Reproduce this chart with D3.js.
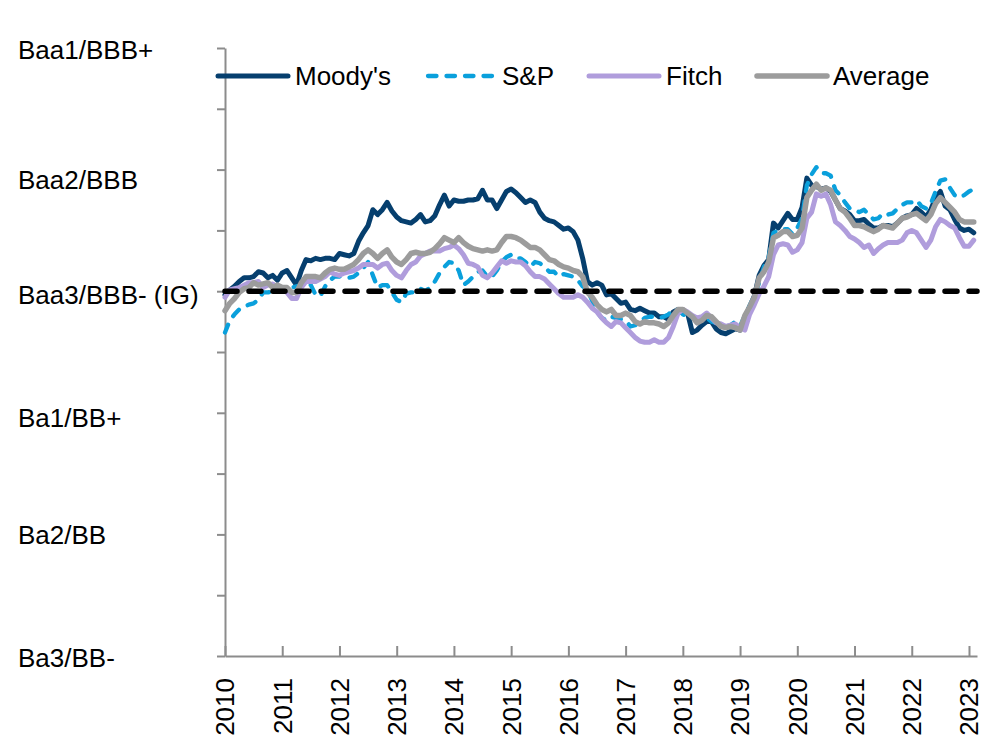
<!DOCTYPE html>
<html>
<head>
<meta charset="utf-8">
<script src="https://d3js.org/d3.v7.min.js"></script>
<style>
  body { margin: 0; background: #fff; }
  text { font-family: "Liberation Sans", Arial, sans-serif; fill: #000; }
</style>
</head>
<body>
<div id="chart"></div>
<script>
// notches relative to the IG threshold (Baa3/BBB- = 0), monthly from Jan 2010
var ratingValues = [-3, -2, -1, 0, 1, 2];
var ratingLabels = ["Ba3/BB-", "Ba2/BB", "Ba1/BB+", "Baa3/BBB- (IG)", "Baa2/BBB", "Baa1/BBB+"];
var years = [2010, 2011, 2012, 2013, 2014, 2015, 2016, 2017, 2018, 2019, 2020, 2021, 2022, 2023];
var igLevel = 0;

var moodys = [
  -0.03,0.01,0.04,0.08,0.11,0.11,0.12,0.16,0.15,0.11,0.13,0.09,
  0.15,0.17,0.11,0.05,0.17,0.26,0.25,0.27,0.26,0.27,0.27,0.26,
  0.31,0.30,0.29,0.31,0.41,0.48,0.54,0.67,0.63,0.67,0.73,0.66,
  0.61,0.58,0.57,0.56,0.59,0.63,0.57,0.58,0.62,0.71,0.79,0.70,
  0.75,0.74,0.74,0.75,0.75,0.76,0.83,0.75,0.75,0.68,0.75,0.82,
  0.84,0.81,0.77,0.73,0.75,0.73,0.65,0.60,0.58,0.57,0.54,0.51,
  0.52,0.49,0.42,0.27,0.08,0.05,0.07,0.05,-0.03,-0.02,-0.06,-0.10,
  -0.09,-0.15,-0.16,-0.14,-0.16,-0.18,-0.18,-0.21,-0.21,-0.23,-0.17,-0.15,
  -0.18,-0.18,-0.34,-0.32,-0.28,-0.25,-0.25,-0.31,-0.34,-0.35,-0.33,-0.31,
  -0.32,-0.22,-0.13,-0.04,0.13,0.21,0.26,0.56,0.52,0.58,0.64,0.59,
  0.59,0.69,0.93,0.87,0.86,0.84,0.85,0.82,0.75,0.68,0.66,0.63,
  0.58,0.58,0.59,0.55,0.52,0.52,0.54,0.54,0.53,0.56,0.60,0.62,
  0.63,0.68,0.65,0.61,0.67,0.77,0.82,0.70,0.67,0.59,0.52,0.50,
  0.51,0.48
];
var sp = [
  -0.34,-0.24,-0.19,-0.15,-0.13,-0.11,-0.10,-0.07,-0.01,-0.01,0.00,0.02,
  0.02,-0.01,0.03,0.04,0.05,0.07,0.05,-0.03,-0.04,0.04,0.09,0.12,
  0.12,0.12,0.11,0.12,0.15,0.19,0.24,0.13,0.03,0.05,0.05,-0.01,
  -0.07,-0.09,-0.02,-0.01,-0.01,0.02,0.00,0.03,0.08,0.15,0.20,0.24,
  0.23,0.17,0.05,0.08,0.12,0.16,0.17,0.12,0.12,0.17,0.24,0.28,
  0.30,0.27,0.27,0.24,0.20,0.24,0.23,0.20,0.16,0.16,0.12,0.14,
  0.13,0.12,0.09,0.04,0.01,-0.08,-0.17,-0.22,-0.24,-0.21,-0.22,-0.23,
  -0.24,-0.29,-0.28,-0.25,-0.22,-0.21,-0.21,-0.22,-0.21,-0.19,-0.15,-0.15,
  -0.19,-0.21,-0.22,-0.25,-0.24,-0.22,-0.25,-0.26,-0.27,-0.29,-0.28,-0.25,
  -0.29,-0.20,-0.12,-0.04,0.07,0.20,0.28,0.48,0.50,0.51,0.51,0.47,
  0.52,0.60,0.87,0.96,1.02,0.97,0.97,0.95,0.83,0.79,0.73,0.68,
  0.67,0.65,0.67,0.63,0.59,0.60,0.64,0.63,0.64,0.68,0.71,0.73,
  0.73,0.75,0.70,0.68,0.72,0.82,0.91,0.92,0.85,0.79,0.77,0.79,
  0.82,0.84
];
var fitch = [
  -0.05,0.01,0.02,0.03,0.05,0.07,0.07,0.08,0.03,0.05,0.06,0.03,
  0.02,-0.01,-0.06,-0.06,0.03,0.08,0.08,0.08,0.10,0.12,0.16,0.14,
  0.13,0.15,0.16,0.17,0.19,0.22,0.22,0.22,0.19,0.22,0.23,0.17,
  0.13,0.11,0.17,0.22,0.24,0.29,0.31,0.33,0.33,0.33,0.35,0.36,
  0.38,0.35,0.30,0.23,0.22,0.20,0.13,0.11,0.15,0.20,0.25,0.23,
  0.25,0.24,0.24,0.21,0.16,0.12,0.12,0.10,0.06,0.02,-0.02,-0.05,
  -0.05,-0.05,-0.03,-0.05,-0.09,-0.14,-0.17,-0.22,-0.26,-0.29,-0.25,-0.26,
  -0.30,-0.34,-0.38,-0.41,-0.42,-0.42,-0.40,-0.42,-0.42,-0.38,-0.29,-0.18,
  -0.15,-0.17,-0.20,-0.22,-0.21,-0.18,-0.22,-0.26,-0.27,-0.29,-0.28,-0.27,
  -0.30,-0.32,-0.19,-0.11,-0.02,0.04,0.12,0.30,0.38,0.39,0.38,0.32,
  0.34,0.40,0.60,0.65,0.80,0.78,0.80,0.71,0.57,0.54,0.50,0.45,
  0.43,0.40,0.36,0.38,0.31,0.35,0.38,0.40,0.40,0.40,0.42,0.48,
  0.50,0.48,0.42,0.36,0.42,0.53,0.59,0.57,0.54,0.52,0.44,0.37,
  0.37,0.42
];
var average = [
  -0.16,-0.10,-0.06,-0.01,0.02,0.03,0.07,0.05,0.06,0.07,0.03,0.05,
  0.03,0.03,-0.01,-0.01,0.07,0.12,0.12,0.12,0.11,0.15,0.18,0.19,
  0.18,0.18,0.20,0.22,0.26,0.31,0.34,0.31,0.27,0.31,0.34,0.28,
  0.24,0.22,0.26,0.31,0.32,0.31,0.31,0.32,0.35,0.39,0.44,0.42,
  0.40,0.44,0.40,0.37,0.35,0.34,0.33,0.34,0.33,0.34,0.40,0.45,
  0.45,0.44,0.42,0.39,0.36,0.36,0.34,0.30,0.26,0.25,0.22,0.20,
  0.19,0.17,0.16,0.12,-0.01,-0.05,-0.11,-0.15,-0.17,-0.15,-0.20,-0.20,
  -0.18,-0.20,-0.25,-0.27,-0.25,-0.26,-0.26,-0.27,-0.29,-0.26,-0.20,-0.15,
  -0.15,-0.18,-0.21,-0.26,-0.24,-0.20,-0.21,-0.25,-0.29,-0.30,-0.29,-0.30,
  -0.32,-0.20,-0.13,-0.05,0.11,0.16,0.24,0.44,0.46,0.49,0.49,0.45,
  0.46,0.52,0.77,0.83,0.88,0.83,0.85,0.83,0.75,0.68,0.65,0.60,
  0.54,0.54,0.53,0.51,0.49,0.51,0.54,0.53,0.52,0.56,0.60,0.61,
  0.63,0.64,0.61,0.58,0.63,0.72,0.77,0.73,0.69,0.65,0.59,0.57,
  0.57,0.57
];

var series = [
  {name: "Moody's", values: moodys, color: "#063f6e", width: 5, dash: null, lx: 218, tx: 295},
  {name: "S&P", values: sp, color: "#0aa0dc", width: 4.3, dash: "8.5,10", lx: 428, tx: 502},
  {name: "Fitch", values: fitch, color: "#b09ddc", width: 5, dash: null, lx: 589, tx: 666},
  {name: "Average", values: average, color: "#9c9c9c", width: 5.5, dash: null, lx: 757, tx: 833}
];

// small vertical nudges of the rating labels, as placed in the original
var labelNudge = [4, 3, 7, 6, 13, 4];

var width = 996, height = 741;
var svg = d3.select("#chart").append("svg")
  .attr("width", width).attr("height", height);

var x = d3.scaleLinear().domain([2010, 2023.14]).range([225, 977]);
var y = d3.scaleLinear().domain([-3, 2]).range([656, 48]);

var axisColor = "#8c8c8c";

// y axis: ticks every half notch, pointing out
var yAxis = svg.append("g")
  .attr("transform", "translate(225,0)")
  .call(d3.axisLeft(y).tickValues(d3.range(-3, 2.01, 0.5)).tickSize(8).tickSizeOuter(0).tickFormat(""));
yAxis.selectAll("path, line").attr("stroke", axisColor).attr("stroke-width", 2);

// x axis: ticks point up into the plot
var xAxis = svg.append("g")
  .attr("transform", "translate(0,656)")
  .call(d3.axisBottom(x).tickValues(years).tickSizeInner(-10).tickSizeOuter(0).tickFormat(""));
xAxis.selectAll("path, line").attr("stroke", axisColor).attr("stroke-width", 2);

svg.selectAll(".ylab")
  .data(ratingValues)
  .enter().append("text")
  .attr("class", "ylab")
  .attr("x", 18)
  .attr("y", function(d, i) { return y(d) + labelNudge[i]; })
  .attr("dominant-baseline", "middle")
  .style("font-size", "26px")
  .text(function(d, i) { return ratingLabels[i]; });

svg.selectAll(".xlab")
  .data(years)
  .enter().append("text")
  .attr("class", "xlab")
  .attr("transform", function(d) { return "translate(" + x(d) + ",678) rotate(-90)"; })
  .attr("text-anchor", "end")
  .attr("dy", "0.36em")
  .style("font-size", "26px")
  .text(function(d) { return d; });

var line = d3.line()
  .x(function(d, i) { return x(2010 + i / 12); })
  .y(function(d) { return y(d); });

series.forEach(function(s) {
  svg.append("path")
    .datum(s.values)
    .attr("d", line)
    .attr("fill", "none")
    .attr("stroke", s.color)
    .attr("stroke-width", s.width)
    .attr("stroke-linejoin", "round")
    .attr("stroke-linecap", "round")
    .attr("stroke-dasharray", s.dash);
});

// IG threshold
svg.append("line")
  .attr("x1", x(2010)).attr("x2", x(2023.14))
  .attr("y1", y(igLevel)).attr("y2", y(igLevel))
  .attr("stroke", "#000")
  .attr("stroke-width", 5.5)
  .attr("stroke-linecap", "round")
  .attr("stroke-dasharray", "12,12");

// legend
var legend = svg.append("g").attr("transform", "translate(0,76)");
series.forEach(function(s) {
  legend.append("line")
    .attr("x1", s.lx).attr("x2", s.lx + 70)
    .attr("stroke", s.color)
    .attr("stroke-width", s.width)
    .attr("stroke-linecap", "round")
    .attr("stroke-dasharray", s.dash);
  legend.append("text")
    .attr("x", s.tx)
    .attr("dy", "0.35em")
    .style("font-size", "26px")
    .text(s.name);
});
</script>
</body>
</html>
